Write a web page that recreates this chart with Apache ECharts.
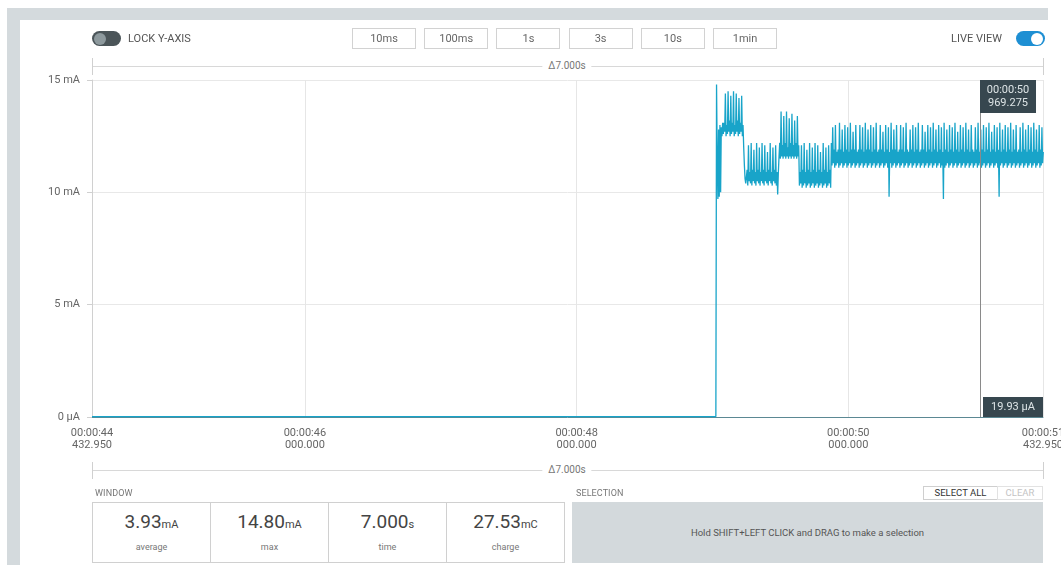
<!DOCTYPE html>
<html><head><meta charset="utf-8">
<script src="https://cdn.jsdelivr.net/npm/echarts@6/dist/echarts.min.js"></script>
<style>
html,body{margin:0;padding:0;background:#fff;width:1061px;height:565px;overflow:hidden;font-family:Roboto,"Noto Sans",sans-serif;}
.abs{position:absolute;box-sizing:border-box;}
#frameTop{left:7px;top:8px;width:1041px;height:12px;background:#d4dadd;}
#frameLeft{left:7px;top:8px;width:13px;height:557px;background:#d4dadd;}
#chart{position:absolute;left:0;top:0;width:1061px;height:565px;}
.toggle{height:15px;width:29px;border-radius:8px;}
.knob{position:absolute;top:1.5px;width:12px;height:12px;border-radius:6px;}
.lbl{font-size:11px;color:#555;white-space:nowrap;}
.btn{top:28px;height:21px;width:64px;border:1px solid #d2d2d2;font-size:11px;color:#666;text-align:center;line-height:19px;background:#fff;}
.bracket{height:1px;background:#d8d8d8;}
.btick{width:1px;background:#d0d0d0;}
.delta{font-size:10px;color:#777;background:#fff;padding:0 6px;white-space:nowrap;transform:translateX(-50%);line-height:12px;}
.sect{font-size:9px;color:#777;letter-spacing:0.1px;}
.cell{top:502px;height:61px;border:1px solid #d0d0d0;text-align:center;background:#fff;}
.big{font-size:19px;color:#444;margin-top:8px;line-height:22px;}
.big span{font-size:11px;}
.small{font-size:9px;color:#777;margin-top:6px;}
</style></head>
<body>
<div id="frameTop" class="abs"></div>
<div id="frameLeft" class="abs"></div>
<div id="chart"></div>
<div id="ui"></div>
<script>
// ---------- data ----------
const rangeButtons = ['10ms', '100ms', '1s', '3s', '10s', '1min'];
const deltaLabel = 'Δ7.000s';
const timeStart = 44.43295;
const timeEnd = 51.43295;
const xTickValues = [44.43295, 46, 48, 50, 51.43295];
const xTickLabels = ['00:00:44\n432.950', '00:00:46\n000.000', '00:00:48\n000.000', '00:00:50\n000.000', '00:00:51\n432.950'];
const yTickValues = [0, 5, 10, 15];
const yTickLabels = ['0 µA', '5 mA', '10 mA', '15 mA'];

// idle (sleep) current before the burst, mA
const idleTimes = [44.43295, 49.025];
const idleValues = [0.02, 0.02];

// sampled current after wake-up, mA, one sample every 5 ms from 49.030 s
const sampleStart = 49.03;
const sampleStep = 0.005;
const wakeup = [14.8, 11.5, 9.7, 12.8, 9.8, 13.0, 10.0, 12.9, 12.5, 13.1];
const burstA = [12.6, 13.1, 12.7, 14.4, 12.5, 13.0, 12.6, 14.5, 12.7, 13.2, 12.5, 14.3, 12.6, 13.1, 12.7,
  14.5, 12.5, 13.0, 12.6, 14.4, 12.7, 13.2, 12.5, 14.2, 12.6, 13.1, 12.7, 14.3, 12.5, 13.0];
const transAB = [12.0, 11.2, 10.6, 10.4];
const burstB = [10.4, 11.0, 10.3, 12.1, 10.5, 10.9, 10.4, 12.2, 10.3, 11.0, 10.5, 11.9, 10.4, 10.9, 10.3, 12.2,
  10.5, 11.0, 10.4, 12.0, 10.3, 10.9, 10.5, 12.2, 10.4, 11.0, 10.3, 12.1, 10.5, 10.9, 10.4, 11.8,
  10.3, 11.0, 10.5, 12.2, 10.4, 10.9, 10.3, 12.0, 10.5, 11.0, 10.4, 12.1, 10.3, 10.9];
const dipBC = [9.9, 10.9];
const burstC = [11.6, 12.2, 11.5, 13.6, 11.6, 12.1, 11.5, 13.4, 11.6, 12.2, 11.5, 13.6, 11.6, 12.0, 11.5,
  13.3, 11.6, 12.2, 11.5, 13.5, 11.6, 12.1, 11.5, 13.2, 11.6, 12.2, 11.5, 13.4, 11.6, 12.1];
const burstD = [10.3, 10.9, 10.4, 12.1, 10.2, 11.0, 10.3, 12.2, 10.4, 10.9, 10.2, 11.9, 10.3, 11.0, 10.4, 12.2,
  10.2, 10.9, 10.3, 12.0, 10.4, 11.0, 10.2, 12.2, 10.3, 10.9, 10.4, 12.1, 10.2, 11.0, 10.3, 11.8,
  10.4, 10.9, 10.2, 12.2, 10.3, 11.0, 10.4, 12.0, 10.2, 10.9, 10.3, 12.1, 10.4, 11.0, 10.2, 12.2];
const steady = [
  11.2, 12.9, 11.3, 11.9, 11.1, 13.0, 11.2, 11.8, 11.3, 11.9, 11.1, 13.1, 11.2, 11.9, 11.3, 12.8, 11.1, 11.8, 11.2, 13.0,
  11.3, 11.9, 11.1, 12.9, 11.2, 11.8, 11.3, 13.1, 11.1, 11.9, 11.2, 12.7, 11.3, 11.9, 11.1, 13.0, 11.2, 11.8, 11.3, 11.9,
  11.1, 13.0, 11.2, 11.9, 11.3, 12.9, 11.1, 11.8, 11.2, 13.1, 11.3, 11.9, 11.1, 12.8, 11.2, 11.9, 11.3, 13.0, 11.1, 11.8,
  11.2, 12.9, 11.3, 11.9, 11.1, 13.1, 11.2, 11.8, 11.3, 11.9, 11.1, 13.0, 11.2, 11.9, 11.3, 12.7, 11.1, 11.8, 11.2, 13.0,
  11.3, 11.9, 11.1, 12.9, 9.8, 11.8, 11.3, 13.1, 11.1, 11.9, 11.2, 12.8, 11.3, 11.9, 11.1, 13.0, 11.2, 11.8, 11.3, 11.9,
  11.1, 13.0, 11.2, 11.9, 11.3, 12.9, 11.1, 11.8, 11.2, 13.1, 11.3, 11.9, 11.1, 11.8, 11.2, 12.8, 11.3, 11.9, 11.1, 13.0,
  11.2, 11.8, 11.3, 12.9, 11.1, 11.9, 11.2, 13.1, 11.3, 11.8, 11.1, 11.9, 11.2, 13.0, 11.3, 11.9, 11.1, 12.7, 11.2, 11.8,
  11.3, 13.0, 11.1, 11.9, 11.2, 12.9, 11.3, 11.8, 11.1, 13.1, 11.2, 11.9, 11.3, 12.8, 11.1, 11.8, 11.2, 13.0, 11.3, 11.9,
  11.1, 12.9, 11.2, 11.8, 9.7, 13.1, 11.1, 11.9, 11.2, 12.8, 11.3, 11.8, 11.1, 13.0, 11.2, 11.9, 11.3, 12.9, 11.1, 11.8,
  11.2, 13.1, 11.3, 11.9, 11.1, 12.7, 11.2, 11.8, 11.3, 13.0, 11.1, 11.9, 11.2, 12.9, 11.3, 11.8, 11.1, 13.1, 11.2, 11.9,
  11.3, 12.8, 11.1, 11.8, 11.2, 13.0, 11.3, 11.9, 11.1, 11.8, 11.2, 12.9, 11.3, 11.9, 11.1, 13.1, 11.2, 11.8, 11.3, 12.8,
  11.1, 11.9, 11.2, 13.0, 11.3, 11.8, 11.1, 12.9, 11.2, 11.9, 11.3, 13.1, 11.1, 11.8, 11.2, 12.7, 11.3, 11.9, 11.1, 13.0,
  11.2, 11.8, 11.3, 12.9, 11.1, 11.9, 9.8, 13.1, 11.2, 11.8, 11.3, 12.8, 11.1, 11.9, 11.2, 13.0, 11.3, 11.8, 11.1, 12.9,
  11.2, 11.9, 11.3, 13.1, 11.1, 11.8, 11.2, 12.8, 11.3, 11.9, 11.1, 13.0, 11.2, 11.8, 11.3, 11.9, 11.1, 12.9, 11.2, 11.8,
  11.3, 13.1, 11.1, 11.9, 11.2, 12.8, 11.3, 11.8, 11.1, 13.0, 11.2, 11.9, 11.3, 12.9, 11.1, 11.8, 11.2, 13.1, 11.3, 11.9,
  11.1, 12.8, 11.2, 11.8, 11.3, 13.0, 11.1, 11.9, 11.2, 12.9, 11.3, 11.8
];

const cursorTime = 50.969275;
const cursorTimeLabel = ['00:00:50', '969.275'];
const cursorValueLabel = '19.93 µA';

const statValues = ['3.93', '14.80', '7.000', '27.53'];
const statUnits = ['mA', 'mA', 's', 'mC'];
const statNames = ['average', 'max', 'time', 'charge'];

// ---------- build series ----------
const samples = [].concat(wakeup, burstA, transAB, burstB, dipBC, burstC, burstD, steady);
const seriesData = idleTimes.map((t, i) => [t, idleValues[i]]);
samples.forEach((v, i) => seriesData.push([+(sampleStart + i * sampleStep).toFixed(5), v]));

// ---------- UI (html) ----------
const ui = document.getElementById('ui');
function el(cls, style, html) {
  const d = document.createElement('div');
  d.className = 'abs ' + cls;
  Object.assign(d.style, style);
  if (html !== undefined) d.innerHTML = html;
  ui.appendChild(d);
  return d;
}
const t1 = el('toggle', {left: '92px', top: '31px', background: '#4b5559'});
const k1 = document.createElement('div'); k1.className = 'knob'; Object.assign(k1.style, {left: '2px', background: '#8d999d'}); t1.appendChild(k1);
el('lbl', {left: '128px', top: '32px'}, 'LOCK Y-AXIS');
rangeButtons.forEach((b, i) => el('btn', {left: (352 + i * 72.2) + 'px'}, b));
el('lbl', {left: '951px', top: '32px'}, 'LIVE VIEW');
const t2 = el('toggle', {left: '1016px', top: '31px', background: '#1e8fd3'});
const k2 = document.createElement('div'); k2.className = 'knob'; Object.assign(k2.style, {left: '15px', background: '#fff'}); t2.appendChild(k2);
[66, 470].forEach(y => {
  el('bracket', {left: '92px', top: y + 'px', width: '951px'});
  el('btick', {left: '92px', top: (y - 8) + 'px', height: '17px'});
  el('btick', {left: '1043px', top: (y - 8) + 'px', height: '17px'});
  el('delta', {left: '567px', top: (y - 6) + 'px'}, deltaLabel);
});
el('sect', {left: '95px', top: '488px'}, 'WINDOW');
statValues.forEach((v, i) => {
  const c = el('cell', {left: (92 + i * 118) + 'px', width: '119px'});
  c.innerHTML = '<div class="big">' + v + '<span>' + statUnits[i] + '</span></div><div class="small">' + statNames[i] + '</div>';
});
el('sect', {left: '576px', top: '488px'}, 'SELECTION');
el('', {left: '923px', top: '486px', width: '75px', height: '14px', border: '1px solid #cfcfcf', fontSize: '9.5px', color: '#333', textAlign: 'center', lineHeight: '12px', background: '#fff'}, 'SELECT ALL');
el('', {left: '997px', top: '486px', width: '46px', height: '14px', border: '1px solid #e2e2e2', fontSize: '9.5px', color: '#c4c4c4', textAlign: 'center', lineHeight: '12px', background: '#fff'}, 'CLEAR');
el('', {left: '572px', top: '502px', width: '471px', height: '61px', background: '#d3d9dc', fontSize: '9.5px', color: '#555', textAlign: 'center', lineHeight: '61px'}, 'Hold SHIFT+LEFT CLICK and DRAG to make a selection');

// ---------- chart ----------
const chart = echarts.init(document.getElementById('chart'), null, {renderer: 'canvas'});
const option = {
  animation: false,
  backgroundColor: 'transparent',
  textStyle: {fontFamily: 'Roboto'},
  grid: {left: 92, right: 18, top: 80, bottom: 148, containLabel: false, outerBoundsMode: 'none'},
  xAxis: {
    type: 'value', min: timeStart, max: timeEnd,
    axisLine: {show: true, lineStyle: {color: '#5b8893', width: 1}},
    axisTick: {show: false, customValues: xTickValues},
    axisLabel: {
      customValues: xTickValues, color: '#666', fontSize: 11, lineHeight: 12, margin: 10, hideOverlap: false,
      formatter: v => { const i = xTickValues.findIndex(x => Math.abs(x - v) < 1e-6); return i >= 0 ? xTickLabels[i] : ''; }
    },
    splitLine: {show: true, lineStyle: {color: '#e6e6e6', width: 1}}
  },
  yAxis: {
    type: 'value', min: 0, max: 15, interval: 5,
    axisLine: {show: true, lineStyle: {color: '#d0d0d0'}},
    axisTick: {show: true, length: 5, lineStyle: {color: '#d0d0d0'}},
    axisLabel: {color: '#666', fontSize: 11, margin: 12,
      formatter: v => { const i = yTickValues.indexOf(v); return i >= 0 ? yTickLabels[i] : ''; }},
    splitLine: {show: true, lineStyle: {color: '#e8e8e8'}}
  },
  series: [{
    type: 'line', data: seriesData, showSymbol: false, symbol: 'none',
    lineStyle: {color: '#18a4c9', width: 1.3}, itemStyle: {color: '#18a4c9'},
    silent: true,
    markLine: {
      silent: true, symbol: ['none', 'none'], label: {show: false},
      lineStyle: {color: '#8a8a8a', width: 1, type: 'solid'},
      data: [{xAxis: cursorTime}]
    }
  }]
};
chart.setOption(option);
const pTop = chart.convertToPixel({xAxisIndex: 0, yAxisIndex: 0}, [cursorTime, 15]);
const pBot = chart.convertToPixel({xAxisIndex: 0, yAxisIndex: 0}, [cursorTime, 0]);
const plotRight = chart.convertToPixel({xAxisIndex: 0, yAxisIndex: 0}, [timeEnd, 0])[0];
const cx = pTop[0];
chart.setOption({
  graphic: [
    {type: 'rect', shape: {x: cx, y: pTop[1], width: 56, height: 33}, style: {fill: '#37474f'}, z: 100},
    {type: 'text', x: cx + 28, y: pTop[1] + 10, style: {text: cursorTimeLabel[0], fill: '#dde4e6', font: '11px Roboto', align: 'center', verticalAlign: 'middle'}, z: 101},
    {type: 'text', x: cx + 28, y: pTop[1] + 23, style: {text: cursorTimeLabel[1], fill: '#dde4e6', font: '11px Roboto', align: 'center', verticalAlign: 'middle'}, z: 101},
    {type: 'rect', shape: {x: cx + 3, y: pBot[1] - 20, width: plotRight - cx - 3, height: 20}, style: {fill: '#37474f'}, z: 100},
    {type: 'text', x: (cx + 3 + plotRight) / 2, y: pBot[1] - 10, style: {text: cursorValueLabel, fill: '#dde4e6', font: '11px Roboto', align: 'center', verticalAlign: 'middle'}, z: 101}
  ]
});
</script>
</body></html>
